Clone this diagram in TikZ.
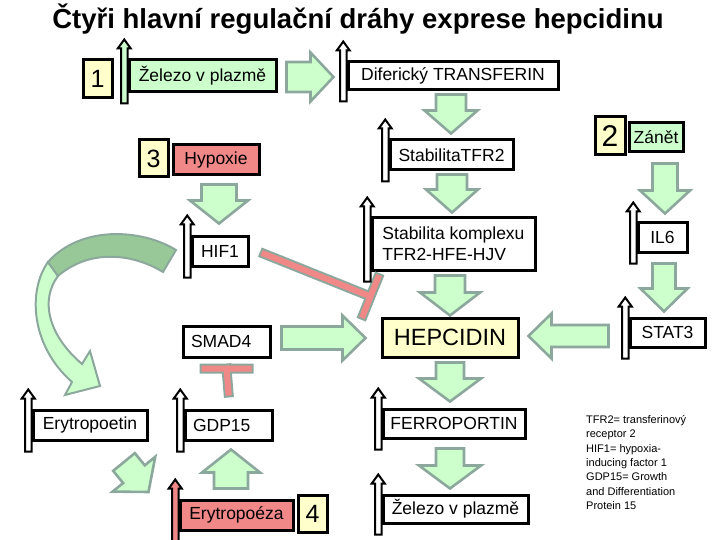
\documentclass[tikz,border=0pt]{standalone}
\usepackage{fontspec}
\setmainfont{Liberation Sans}
\usetikzlibrary{calc}

\definecolor{lightgreen}{RGB}{204,255,204}
\definecolor{darkgreen}{RGB}{152,200,152}
\definecolor{arrowgray}{RGB}{140,168,156}
\definecolor{rosepink}{RGB}{240,136,136}
\definecolor{paleyellow}{RGB}{255,255,204}

% upward flag arrow glued to the left side of a box
\newcommand{\flag}[2][white]{%
    \draw [line width=2pt, fill=#1]
        ($(#2.south west)+(0,10)$) -- ($(#2.north west)+(0,-10)$) -- ++(3.25,0)
        -- ($(#2.north west)+(-3.25,-19)$) -- ($(#2.north west)+(-9.75,-10)$)
        -- ++(3.25,0) -- ($(#2.south west)+(-6.5,10)$) -- cycle;}

% block arrow: shaft half width, head half width, tail, tip
\newcommand{\blockarrow}[4]{%
    \coordinate (ba-t) at (#3);
    \coordinate (ba-p) at (#4);
    \coordinate (ba-h) at ($(ba-p)!23pt!(ba-t)$);
    \draw [greenarrow]
        ($(ba-t)!#1pt!90:(ba-p)$) -- ($(ba-h)!#1pt!90:(ba-p)$)
        -- ($(ba-h)!#2pt!90:(ba-p)$) -- (ba-p)
        -- ($(ba-h)!#2pt!-90:(ba-p)$) -- ($(ba-h)!#1pt!-90:(ba-p)$)
        -- ($(ba-t)!#1pt!-90:(ba-p)$) -- cycle;}

\begin{document}
\begin{tikzpicture} [x=1pt, y=-1pt,
    box/.style = {draw, line width=3pt, fill=white, inner sep=0pt,
        font=\fontsize{17.5}{21}\selectfont},
    numbox/.style = {box, fill=paleyellow, font=\fontsize{25}{25}\selectfont},
    greenarrow/.style = {draw=arrowgray, fill=lightgreen, line width=2.6pt},
    inhibitborder/.style = {draw=arrowgray, line width=10pt, line cap=rect},
    inhibitfill/.style = {draw=rosepink, line width=6pt, line cap=rect}]
    \useasboundingbox (0,0) rectangle (720,540);

    \node (title) [font=\fontsize{27.5}{30}\selectfont\bfseries] at (358,19)
        {Čtyři hlavní regulační dráhy exprese hepcidinu};

    \node (num1) [numbox, minimum width=29pt, minimum height=38pt] at (97.5,79) {1};
    \node (fe1) [box, fill=lightgreen, minimum width=147pt, minimum height=32pt]
        at (202.5,76) {Železo v plazmě};
    \node (tf) [box, minimum width=210pt, minimum height=28pt] at (453,76)
        {Diferický TRANSFERIN};
    \node (tfr2) [box, minimum width=123pt, minimum height=30pt] at (451.5,155)
        {StabilitaTFR2};
    \node (num2) [numbox, minimum width=30pt, minimum height=38pt,
        font=\fontsize{30}{30}\selectfont] at (610,136) {2};
    \node (zanet) [box, fill=lightgreen, minimum width=54pt, minimum height=29pt]
        at (656,137.5) {Zánět};
    \node (num3) [numbox, minimum width=29pt, minimum height=37pt] at (153.5,158.5) {3};
    \node (hypoxie) [box, fill=rosepink, minimum width=86pt, minimum height=30pt]
        at (216,160) {Hypoxie};
    \node (hif1) [box, minimum width=56pt, minimum height=30pt] at (220,251) {HIF1};
    \node (komplex) [box, align=left, minimum width=163pt, minimum height=52pt]
        at (453.5,244) {Stabilita komplexu\\TFR2-HFE-HJV};
    \node (il6) [box, minimum width=49pt, minimum height=29pt] at (662.5,237.5) {IL6};
    \node (stat3) [box, minimum width=75pt, minimum height=29pt] at (667.5,332.5) {STAT3};
    \node (hepcidin) [box, fill=paleyellow, minimum width=136pt, minimum height=39pt,
        font=\fontsize{23.5}{26}\selectfont] at (450,337.5) {HEPCIDIN};
    \node (smad4) [box, text width=71pt, align=left, minimum width=87pt,
        minimum height=31pt] at (226.5,341.5) {SMAD4};
    \node (epo) [box, minimum width=114pt, minimum height=30pt] at (90,425) {Erytropoetin};
    \node (gdp15) [box, text width=71pt, align=left, minimum width=87pt,
        minimum height=30pt] at (228.5,425) {GDP15};
    \node (fpn) [box, minimum width=142pt, minimum height=29pt] at (454,423.5)
        {FERROPORTIN};
    \node (erypoeza) [box, fill=rosepink, minimum width=113pt, minimum height=30pt]
        at (236.5,515) {Erytropoéza};
    \node (num4) [numbox, minimum width=29pt, minimum height=37pt] at (312.5,513.5) {4};
    \node (fe2) [box, minimum width=145pt, minimum height=28pt] at (455.5,509)
        {Železo v plazmě};

    \node (legend) [anchor=north west, align=left, inner sep=0pt,
        font=\fontsize{11}{14.4}\selectfont] at (586,415)
        {TFR2= transferinový\\receptor 2\\HIF1= hypoxia-\\inducing factor 1\\%
         GDP15= Growth\\and Differentiation\\Protein 15};

    % curved arrow HIF1 -> Erytropoetin
    \draw [greenarrow, line width=2pt]
        (48,262) .. controls (28,290) and (30,345) .. (72,382) -- (65,395)
        -- (100,386) -- (90,351) -- (82,364)
        .. controls (48,335) and (40,300) .. (58,276) -- cycle;
    \draw [greenarrow, fill=darkgreen, line width=2pt]
        (176,250) .. controls (140,228) and (80,226) .. (48,262) -- (58,276)
        .. controls (88,250) and (130,252) .. (163,272) -- cycle;

    \blockarrow{15}{24.5}{$(fe1.east)+(9,1)$}{$(tf.west)+(-13,1)$}
    \blockarrow{15}{26.5}{$(tf.south)+(-2,3)$}{$(tfr2.north)+(-0.5,-5)$}
    \blockarrow{15}{26}{$(tfr2.south)+(0.5,3)$}{$(komplex.north)+(-1.5,-4)$}
    \blockarrow{15}{30}{$(komplex.south)+(-3.5,4)$}{$(hepcidin.north)+(0,-1)$}
    \blockarrow{14}{31}{$(hepcidin.south)+(0,4)$}{$(fpn.north)+(-4,-6)$}
    \blockarrow{14}{31}{$(fpn.south)+(-4,9)$}{$(fe2.north)+(-5.5,-5)$}
    \blockarrow{12.5}{25}{$(zanet.south)+(9,10)$}{$(il6.north)+(2.5,-8)$}
    \blockarrow{11.5}{23.5}{$(il6.south)+(1.5,10)$}{$(stat3.north)+(-3.5,-5)$}
    \blockarrow{11}{22.5}{$(stat3.west)+(-20,3.5)$}{$(hepcidin.east)+(9,-1.5)$}
    \blockarrow{11.5}{22.5}{$(smad4.east)+(10,-3.5)$}{$(hepcidin.west)+(-15,0.5)$}
    \blockarrow{17.5}{29}{$(hypoxie.south)+(3,8)$}{$(hif1.north)+(-1,-11)$}
    \blockarrow{17}{29}{$(erypoeza.north)+(-5.5,-10)$}{$(gdp15.south)+(2.5,8)$}
    \blockarrow{14}{27.5}{$(epo.south east)+(-24.5,20.5)$}{$(erypoeza.west)+(-30,-23)$}

    % inhibitions
    \coordinate (hifstart) at ($(hif1.east)+(15,3)$);
    \coordinate (hifend) at ($(hepcidin.north west)+(-10,-20)$);
    \coordinate (smadbar) at ($(smad4.south)+(0,10)$);
    \foreach \s in {inhibitborder, inhibitfill}
        \draw [\s] (hifstart) -- (hifend)
            ($(hifend)!20pt!90:(hifstart)$) -- ($(hifend)!20pt!-90:(hifstart)$)
            ($(gdp15.north)+(0,-16)$) -- (smadbar)
            ($(smadbar)+(-22,0)$) -- ($(smadbar)+(22,0)$);

    \flag[lightgreen]{fe1}
    \flag{tf}
    \flag{tfr2}
    \flag{hif1}
    \flag{komplex}
    \flag{il6}
    \flag{stat3}
    \flag{epo}
    \flag{gdp15}
    \flag{fpn}
    \flag[rosepink]{erypoeza}
    \flag{fe2}
\end{tikzpicture}
\end{document}
